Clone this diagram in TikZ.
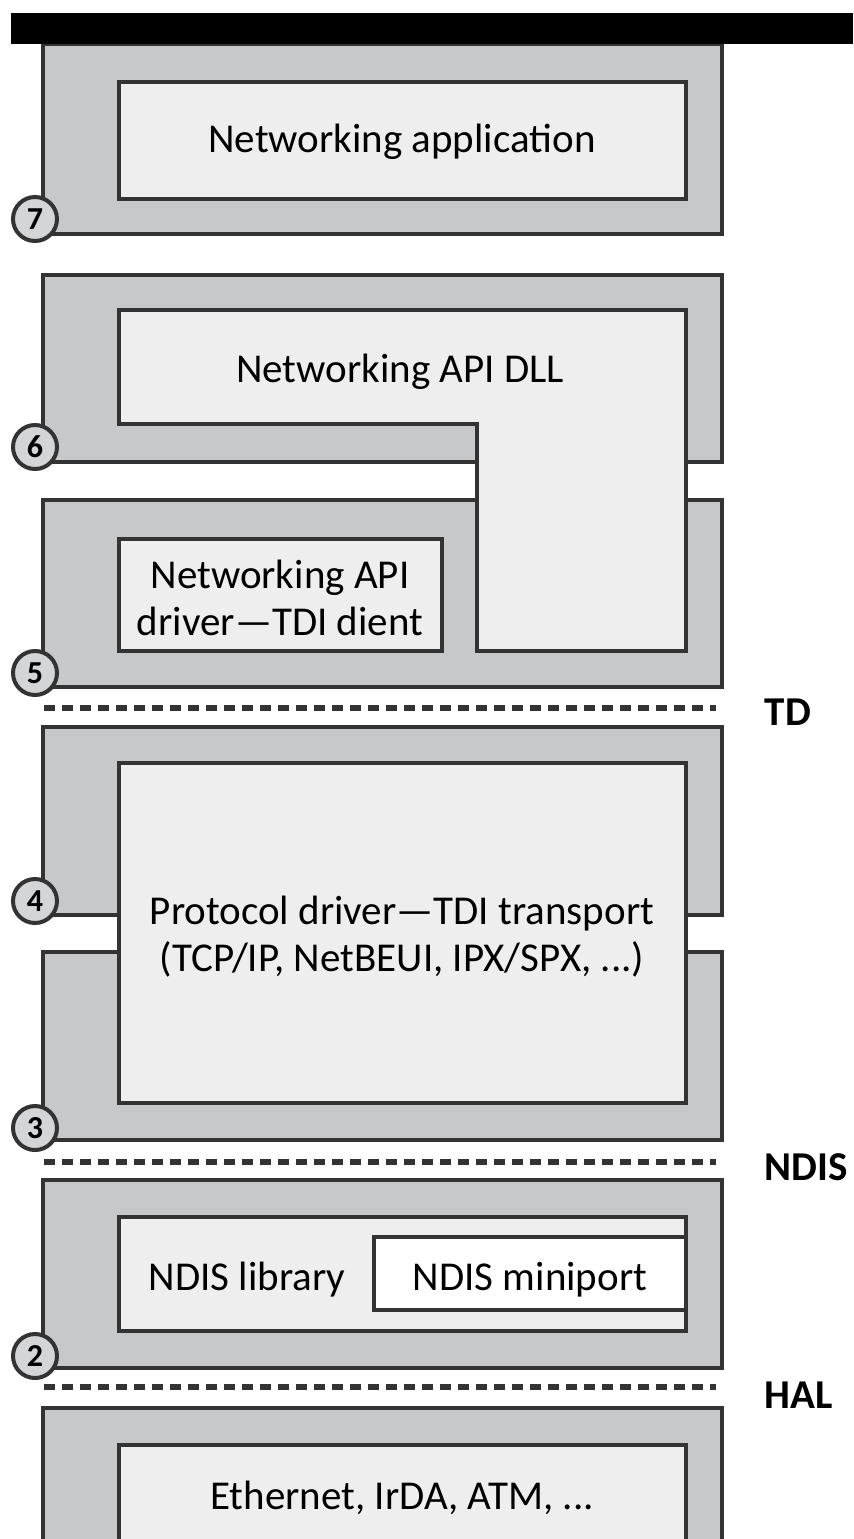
\documentclass[tikz,border=0pt]{standalone}
\usepackage{fontspec}
\setmainfont{Carlito}
\definecolor{outer}{RGB}{199,200,202}
\definecolor{inner}{RGB}{238,238,238}
\definecolor{edge}{RGB}{51,51,51}
\definecolor{numfill}{RGB}{212,213,215}
\begin{document}
\begin{tikzpicture}[x=0.5pt,y=-0.5pt,line width=2.3pt,
  layer/.style={fill=outer,draw=edge},
  core/.style={fill=inner,draw=edge},
  num/.style={circle,fill=numfill,draw=edge,line width=2pt,minimum size=22pt,inner sep=0pt,font=\fontsize{16}{16}\selectfont\bfseries},
  lbl/.style={font=\fontsize{20.5}{23.5}\selectfont,align=center},
  side/.style={anchor=west,font=\fontsize{20.5}{24}\selectfont\bfseries},
  sep/.style={draw=edge,line width=2.8pt,dash pattern=on 5.5pt off 3.5pt}]
\useasboundingbox (0,0) rectangle (853,1539);
\clip (0,0) rectangle (853,1539);
% layer 7
\draw[layer] (43,44) rectangle (722,234);
\draw[core] (119,82) rectangle (686,199);
\fill[black] (11,13) rectangle (853,44);
\node[lbl] (app) at (402,142) {Networking application};
% layers 6 and 5, the DLL reaches down into 5
\draw[layer] (43,275) rectangle (722,462);
\draw[layer] (43,500) rectangle (722,687);
\draw[core] (119,310) -- (686,310) -- (686,651) -- (477,651) -- (477,424) -- (119,424) -- cycle;
\draw[core] (119,539) rectangle (442,651);
\node[lbl] (dll) at (400,372) {Networking API DLL};
\node[lbl] (tdic) at (280,598) {Networking API\\driver—TDI dient};
% layers 4 and 3
\draw[layer] (43,727) rectangle (722,915);
\draw[layer] (43,952) rectangle (722,1140);
\draw[core] (119,763) rectangle (686,1103);
\node[lbl] (proto) at (402,937) {Protocol driver—TDI transport\\(TCP/IP, NetBEUI, IPX/SPX, ...)};
% layer 2
\draw[layer] (43,1180) rectangle (722,1368);
\draw[core] (119,1217) rectangle (686,1331);
\draw[fill=white,draw=edge] (374,1237) rectangle (686,1310);
\node[lbl,anchor=base] (lib) at (247,1290) {NDIS library};
\node[lbl,anchor=base] (mini) at (530,1290) {NDIS miniport};
% layer 1
\draw[layer] (43,1408) rectangle (722,1600);
\draw[core] (119,1445) rectangle (686,1600);
\node[lbl] (phy) at (402,1498) {Ethernet, IrDA, ATM, ...};
% boundaries
\foreach \y/\t/\d in {708/TD/4,1162/NDIS/5,1387/HAL/8}{
  \draw[sep] (44,\y) -- (716,\y);
  \node[side] (\t) at (756,\y+\d) {\t};}
\foreach \n/\y in {7/219,6/447,5/673,4/901,3/1128,2/1356}{\node[num] (c\n) at (35,\y) {\n};}
\end{tikzpicture}
\end{document}
